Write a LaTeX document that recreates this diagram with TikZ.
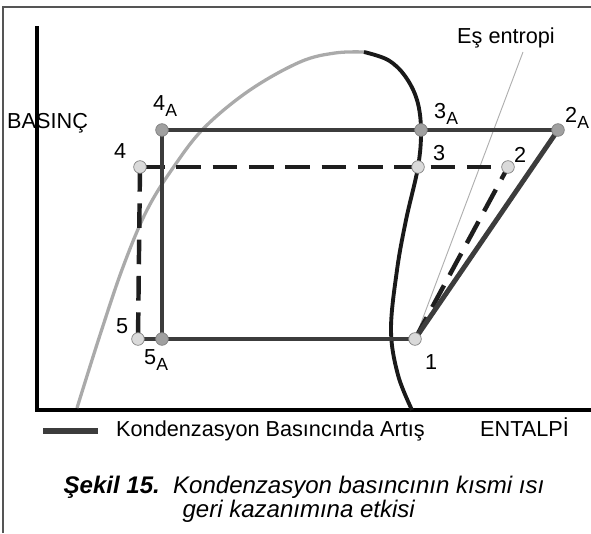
\documentclass[tikz,border=0pt]{standalone}
\usepackage{fontspec}
\setmainfont{Liberation Sans}
\usepackage{tikz}
\usetikzlibrary{positioning, calc}
\definecolor{cFrame}{RGB}{85,85,85}
\definecolor{cDome}{RGB}{170,170,170}
\definecolor{cVapor}{RGB}{25,25,25}
\definecolor{cCycle}{RGB}{60,60,60}
\definecolor{cDash}{RGB}{30,30,30}
\definecolor{cIsen}{RGB}{175,175,175}
\definecolor{cPtLight}{RGB}{218,218,218}
\definecolor{cPtDark}{RGB}{160,160,160}
\newcommand{\lowA}{\raisebox{-0.32em}{\fontsize{15}{15}\selectfont A}}
\tikzset{
	frameln/.style ={line width=1.6pt, cFrame},
	axis/.style    ={line width=3pt, black},
	dome/.style    ={line width=2.8pt, cDome},
	vapor/.style   ={line width=3.3pt, cVapor},
	cycA/.style    ={line width=4.2pt, cCycle},
	cycB/.style    ={line width=3.8pt, cDash, dash pattern=on 21pt off 10pt},
	isen/.style    ={line width=0.8pt, cIsen},
	% state points
	pt/.style      ={circle, draw=cPtDark!80!black, line width=0.6pt, fill=cPtLight, minimum size=0.38cm, inner sep=0pt},
	ptA/.style     ={pt, fill=cPtDark},
	lbl/.style     ={inner sep=0pt, anchor=base west},
}
\begin{document}
\begin{tikzpicture}[x=0.03cm, y=-0.03cm, font=\fontsize{18.5}{22}\selectfont]
	\useasboundingbox (0,0) rectangle (591,533);
	% outer frame (left and top only)
	\draw[frameln] (3,533) -- (3,7) -- (591,7);
	% axes
	\coordinate (ytop) at (37,28);
	\coordinate (orig) at (37,410);
	\coordinate (xend) at (590,410);
	\draw[axis, line cap=rect] (ytop) -- (orig) -- (xend);
	% saturation dome
	\draw[dome] plot[smooth, tension=0.6] coordinates {(77,408) (100,335) (123,267) (147,210) (175,165) (205,127) (250,90) (300,62) (335,53) (364,52)};
	\draw[vapor] plot[smooth, tension=0.6] coordinates {(364,52) (388,60) (405,76) (417,100) (421,130) (418,167) (406,220) (397,270) (391,330) (398,375) (412,410)};
	% state points
	\coordinate (p4A) at (162,130);
	\coordinate (p3A) at (421,130);
	\coordinate (p2A) at (558,130);
	\coordinate (p4) at (140,167);
	\coordinate (p3) at (418,167);
	\coordinate (p2) at (508,167);
	\coordinate (p5) at (138,339);
	\coordinate (p5A) at (162,339);
	\coordinate (p1) at (415,339);
	\coordinate (isTop) at (523,52);
	% isentrope
	\draw[isen] (p1) -- (isTop);
	% base cycle (dashed)
	\draw[cycB] (p4) -- (p2);
	\draw[cycB] (p4) -- (p5);
	\draw[cycB] (p1) -- (p2);
	% raised condensing pressure (solid)
	\draw[cycA] (p5) -- (p5A);
	\draw[cycA] (p4A) -- (p2A);
	\draw[cycA] (p4A) -- (p5A) -- (p1);
	\draw[cycA] (p1) -- (p2A);
	\node[ptA] (m4A) at (p4A) {};
	\node[ptA] (m3A) at (p3A) {};
	\node[ptA] (m2A) at (p2A) {};
	\node[ptA] (m5A) at (p5A) {};
	\node[pt] (m4) at (p4) {};
	\node[pt] (m3) at (p3) {};
	\node[pt] (m2) at (p2) {};
	\node[pt] (m5) at (p5) {};
	\node[pt] (m1) at (p1) {};
	% labels
	\node[lbl] (tBas) at (7,128) {BASINÇ};
	\node[lbl] (t4A) at (153,110) {4\lowA};
	\node[lbl] (t4) at (114,158) {4};
	\node[lbl] (t3A) at (434,118) {3\lowA};
	\node[lbl] (t3) at (433,160) {3};
	\node[lbl] (t2A) at (565,122) {2\lowA};
	\node[lbl] (t2) at (514,162) {2};
	\node[lbl] (tIsen) at (457,43) {Eş entropi};
	\node[lbl] (t5) at (116,333) {5};
	\node[lbl] (t5A) at (144,364) {5\lowA};
	\node[lbl] (t1) at (425,369) {1};
	% legend
	\coordinate (legA) at (43,431);
	\coordinate (legB) at (98,431);
	\draw[line width=5pt, cCycle] (legA) -- (legB);
	\node[lbl] (tLeg) at (116,436) {Kondenzasyon Basıncında Artış};
	\node[lbl] (tEnt) at (480,436) {ENTALPİ};
	% caption
	\node[inner sep=0pt, anchor=base, font=\fontsize{20.5}{24}\selectfont] (cap1) at (304,493) {\textbf{\textit{Şekil 15.}}\ \ \textit{Kondenzasyon basıncının kısmi ısı}};
	\node[inner sep=0pt, anchor=base, font=\fontsize{20.5}{24}\selectfont] (cap2) at (299,517) {\textit{geri kazanımına etkisi}};
\end{tikzpicture}
\end{document}
